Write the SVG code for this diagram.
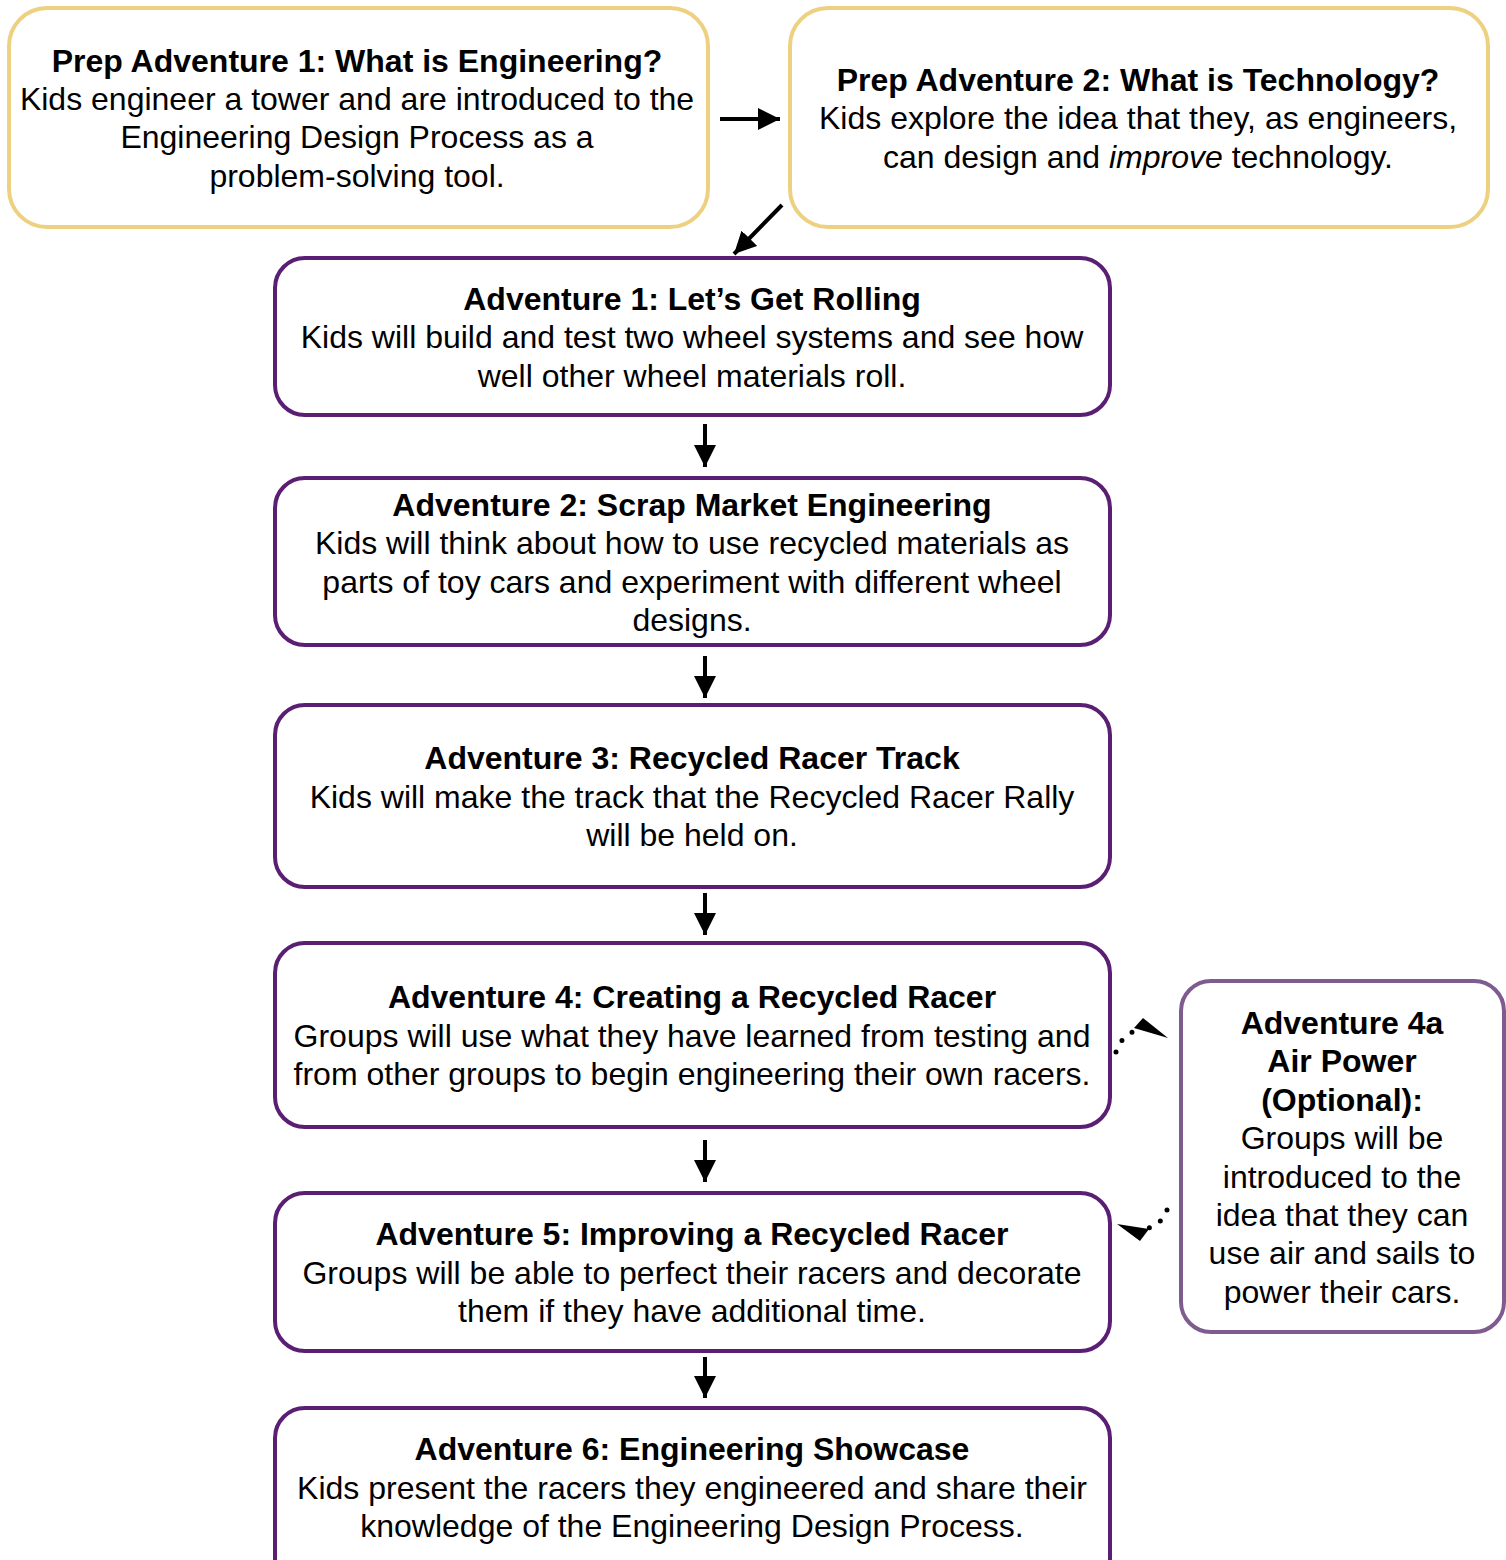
<svg xmlns="http://www.w3.org/2000/svg" width="1506" height="1560" viewBox="0 0 1506 1560">
<style>
.prep{fill:#fff;stroke:#EDD180;stroke-width:4}
.adv{fill:#fff;stroke:#5A1F73;stroke-width:4}
.opt{fill:#fff;stroke:#7E5C8F;stroke-width:4}
text{font-family:"Liberation Sans",Arial,sans-serif;font-size:32px;fill:#000;text-anchor:middle}
.b{font-weight:bold}
.con{stroke:#000;stroke-width:4;fill:none}
.dot{stroke:#000;stroke-width:5;fill:none;stroke-linecap:round;stroke-dasharray:0 13}
</style>
<defs>
<marker id="ah" viewBox="0 0 10 10" refX="10" refY="5" markerWidth="5.5" markerHeight="5.5" orient="auto" markerUnits="strokeWidth">
<path d="M0,0 L10,5 L0,10 z" fill="#000"/>
</marker>
</defs>
<rect width="1506" height="1560" fill="#fff"/>
<g id="prep1">
<rect class="prep" x="9" y="8" width="699" height="219" rx="38"/>
<text x="357" y="72" class="b">Prep Adventure 1: What is Engineering?</text>
<text x="357" y="110">Kids engineer a tower and are introduced to the</text>
<text x="357" y="148">Engineering Design Process as a</text>
<text x="357" y="187">problem-solving tool.</text>
</g>
<g id="prep2">
<rect class="prep" x="790" y="8" width="698" height="219" rx="38"/>
<text x="1138" y="91" class="b">Prep Adventure 2: What is Technology?</text>
<text x="1138" y="129">Kids explore the idea that they, as engineers,</text>
<text x="1138" y="168">can design and <tspan font-style="italic">improve</tspan> technology.</text>
</g>
<g id="adv1">
<rect class="adv" x="275" y="258" width="835" height="157" rx="30"/>
<text x="692" y="310" class="b">Adventure 1: Let’s Get Rolling</text>
<text x="692" y="348">Kids will build and test two wheel systems and see how</text>
<text x="692" y="387">well other wheel materials roll.</text>
</g>
<g id="adv2">
<rect class="adv" x="275" y="478" width="835" height="167" rx="30"/>
<text x="692" y="516" class="b">Adventure 2: Scrap Market Engineering</text>
<text x="692" y="554">Kids will think about how to use recycled materials as</text>
<text x="692" y="593">parts of toy cars and experiment with different wheel</text>
<text x="692" y="631">designs.</text>
</g>
<g id="adv3">
<rect class="adv" x="275" y="705" width="835" height="182" rx="30"/>
<text x="692" y="769" class="b">Adventure 3: Recycled Racer Track</text>
<text x="692" y="808">Kids will make the track that the Recycled Racer Rally</text>
<text x="692" y="846">will be held on.</text>
</g>
<g id="adv4">
<rect class="adv" x="275" y="943" width="835" height="184" rx="30"/>
<text x="692" y="1008" class="b">Adventure 4: Creating a Recycled Racer</text>
<text x="692" y="1047">Groups will use what they have learned from testing and</text>
<text x="692" y="1085">from other groups to begin engineering their own racers.</text>
</g>
<g id="adv5">
<rect class="adv" x="275" y="1193" width="835" height="158" rx="30"/>
<text x="692" y="1245" class="b">Adventure 5: Improving a Recycled Racer</text>
<text x="692" y="1284">Groups will be able to perfect their racers and decorate</text>
<text x="692" y="1322">them if they have additional time.</text>
</g>
<g id="adv6">
<rect class="adv" x="275" y="1408" width="835" height="180" rx="30"/>
<text x="692" y="1460" class="b">Adventure 6: Engineering Showcase</text>
<text x="692" y="1499">Kids present the racers they engineered and share their</text>
<text x="692" y="1537">knowledge of the Engineering Design Process.</text>
</g>
<g id="adv4a">
<rect class="opt" x="1181" y="981" width="323" height="351" rx="30"/>
<text x="1342" y="1034" class="b">Adventure 4a</text>
<text x="1342" y="1072" class="b">Air Power</text>
<text x="1342" y="1111" class="b">(Optional):</text>
<text x="1342" y="1149">Groups will be</text>
<text x="1342" y="1188">introduced to the</text>
<text x="1342" y="1226">idea that they can</text>
<text x="1342" y="1264">use air and sails to</text>
<text x="1342" y="1303">power their cars.</text>
</g>
<g id="connectors">
<line class="con" x1="720" y1="119" x2="780" y2="119" marker-end="url(#ah)"/>
<line class="con" x1="782" y1="205" x2="734" y2="254" marker-end="url(#ah)"/>
<line class="con" x1="705" y1="424" x2="705" y2="467" marker-end="url(#ah)"/>
<line class="con" x1="705" y1="656" x2="705" y2="698" marker-end="url(#ah)"/>
<line class="con" x1="705" y1="893" x2="705" y2="935" marker-end="url(#ah)"/>
<line class="con" x1="705" y1="1140" x2="705" y2="1182" marker-end="url(#ah)"/>
<line class="con" x1="705" y1="1357" x2="705" y2="1398" marker-end="url(#ah)"/>
<path class="dot" d="M1116,1052 Q1121,1035 1140,1029"/>
<path d="M1134,1028 L1168,1038 L1143,1018 z" fill="#000"/>
<path class="dot" d="M1167,1210 Q1162,1225 1145,1229"/>
<path d="M1149,1229 L1117,1224 L1140,1241 z" fill="#000"/>
</g>
</svg>
